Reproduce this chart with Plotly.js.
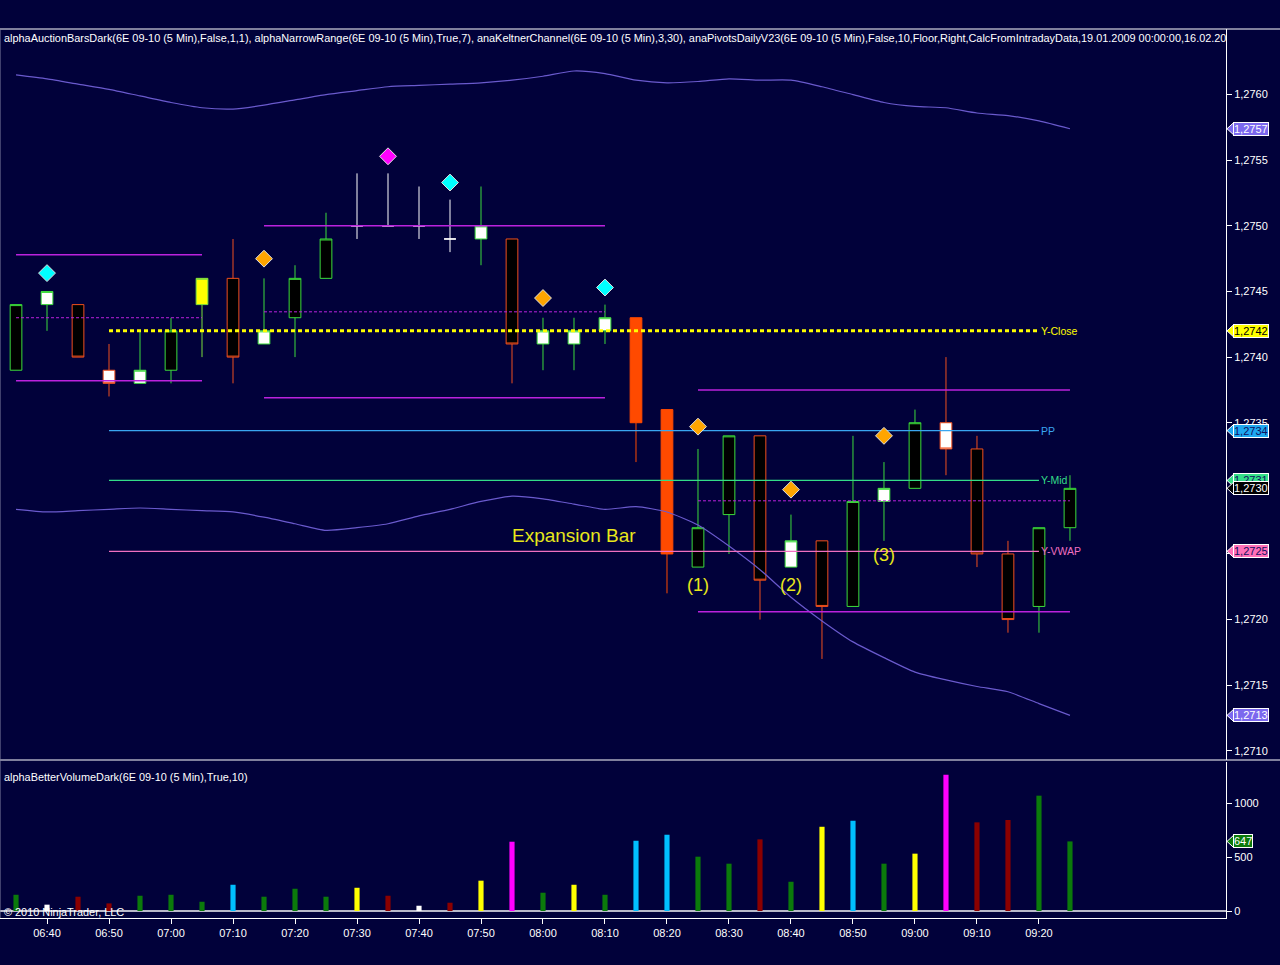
<!DOCTYPE html>
<html>
<head>
<meta charset="utf-8">
<script src="https://cdn.plot.ly/plotly-3.0.1.min.js"></script>
<style>
html,body{margin:0;padding:0;background:#01013a;}
#chart{width:1280px;height:965px;}
</style>
</head>
<body>
<div id="chart"></div>
<script>
// ---------------- DATA ----------------
const day = '2010-07-15 ';
const times = ['06:35','06:40','06:45','06:50','06:55','07:00','07:05','07:10','07:15','07:20',
               '07:25','07:30','07:35','07:40','07:45','07:50','07:55','08:00','08:05','08:10',
               '08:15','08:20','08:25','08:30','08:35','08:40','08:45','08:50','08:55','09:00',
               '09:05','09:10','09:15','09:20','09:25'];
const openP  = [1.2739,1.2744,1.2744,1.2739,1.2738,1.2739,1.2744,1.2746,1.2741,1.2743,
                1.2746,1.2750,1.2750,1.2750,1.2749,1.2749,1.2749,1.2741,1.2741,1.2742,
                1.2743,1.2736,1.2724,1.2728,1.2734,1.2724,1.2726,1.2721,1.2729,1.2730,
                1.2735,1.2733,1.2725,1.2721,1.2727];
const highP  = [1.2744,1.2745,1.2744,1.2741,1.2742,1.2743,1.2746,1.2749,1.2746,1.2747,
                1.2751,1.2754,1.2754,1.2753,1.2752,1.2753,1.2749,1.2743,1.2743,1.2744,
                1.2743,1.2736,1.2733,1.2734,1.2734,1.2728,1.2726,1.2734,1.2732,1.2736,
                1.2740,1.2734,1.2726,1.2727,1.2731];
const lowP   = [1.2739,1.2742,1.2740,1.2737,1.2738,1.2738,1.2740,1.2738,1.2741,1.2740,
                1.2746,1.2749,1.2750,1.2749,1.2748,1.2747,1.2738,1.2739,1.2739,1.2741,
                1.2732,1.2722,1.2724,1.2725,1.2720,1.2724,1.2717,1.2721,1.2726,1.2730,
                1.2731,1.2724,1.2719,1.2719,1.2726];
const closeP = [1.2744,1.2745,1.2740,1.2738,1.2739,1.2742,1.2746,1.2740,1.2742,1.2746,
                1.2749,1.2750,1.2750,1.2750,1.2749,1.2750,1.2741,1.2742,1.2742,1.2743,
                1.2735,1.2725,1.2727,1.2734,1.2723,1.2726,1.2721,1.2729,1.2730,1.2735,
                1.2733,1.2725,1.2720,1.2727,1.2730];
// bar classification from the auction-bars indicator
const barType = ['up','nrUp','down','nrDown','nrUp','up','yellow','down','nrUp','up',
                 'up','doji','doji','doji','doji','nrUp','down','nrUp','nrUp','nrUp',
                 'exp','exp','up','up','down','nrUp','down','up','nrUp','up',
                 'nrDown','down','down','up','up'];

const keltnerUpper = [1.27615,1.27612,1.27608,1.27604,1.27599,1.27594,1.27590,1.27589,1.27592,1.27596,
                      1.27600,1.27603,1.27606,1.27607,1.27608,1.27609,1.27611,1.27614,1.27618,1.27616,
                      1.27611,1.27609,1.27610,1.27612,1.27611,1.27611,1.27606,1.27600,1.27594,1.27591,
                      1.27590,1.27586,1.27584,1.27580,1.27574];
const keltnerLower = [1.27284,1.27282,1.27283,1.27284,1.27285,1.27284,1.27283,1.27282,1.27278,1.27273,
                      1.27268,1.27270,1.27273,1.27279,1.27284,1.27290,1.27294,1.27292,1.27288,1.27284,
                      1.27286,1.27282,1.27272,1.27256,1.27238,1.27217,1.27199,1.27183,1.27171,1.27160,
                      1.27154,1.27149,1.27145,1.27136,1.27127];

const volume = [151,59,133,71,142,151,86,244,133,207,
                133,216,142,49,77,282,644,170,244,151,
                653,709,505,440,666,272,783,839,440,533,
                1267,824,846,1072,647];
const volumeType = ['churn','low','down','down','churn','churn','churn','climax','churn','churn',
                    'churn','high','down','low','down','high','climaxChurn','churn','high','churn',
                    'climax','climax','churn','churn','down','churn','high','climax','churn','high',
                    'climaxChurn','down','down','churn','churn'];

// narrow range boxes
const nrStart = ['06:35','07:15','08:25'];
const nrEnd   = ['07:05','08:10','09:25'];
const nrHigh  = [1.27478,1.27500,1.27375];
const nrLow   = [1.27382,1.27369,1.27206];

// daily pivots
const pivotNames  = ['Y-Close','PP','Y-Mid','Y-VWAP'];
const pivotValues = [1.27420,1.27344,1.27306,1.27252];
const pivotStart = '06:50';
const pivotEnd   = '09:20';

// signal diamonds
const diamondTimes  = ['06:40','07:15','07:35','07:45','08:00','08:10','08:25','08:40','08:55'];
const diamondPrices = [1.27464,1.27475,1.27553,1.27533,1.27445,1.27453,1.27347,1.27299,1.27340];
const diamondKinds  = ['cyan','orange','magenta','cyan','orange','cyan','orange','orange','orange'];

// chart notes
const noteTexts  = ['Expansion Bar','(1)','(2)','(3)'];
const noteTimes  = ['08:05','08:25','08:40','08:55'];
const notePrices = [1.27264,1.27226,1.27226,1.27249];

const priceTicks  = [1.2710,1.2715,1.2720,1.2725,1.2730,1.2735,1.2740,1.2745,1.2750,1.2755,1.2760];
const timeTicks   = ['06:40','06:50','07:00','07:10','07:20','07:30','07:40','07:50','08:00','08:10',
                     '08:20','08:30','08:40','08:50','09:00','09:10','09:20'];
const volumeTicks = [0,500,1000];

// ---------------- STYLES ----------------
const BG = '#01013a';
const candleStyle = {
  up:     {line:'#3cdc3c', fill:'#000000'},
  down:   {line:'#f0501e', fill:'#000000'},
  nrUp:   {line:'#3cdc3c', fill:'#ffffff'},
  nrDown: {line:'#f0501e', fill:'#ffffff'},
  yellow: {line:'#7ce03c', fill:'#ffff00'},
  exp:    {line:'#ff4a00', fill:'#ff4a00'},
  doji:   {line:'#ffffff', fill:'#ffffff'}
};
const volColor = {churn:'#0b7a0b', low:'#ffffff', down:'#8b0000', climax:'#00bfff', high:'#ffff00', climaxChurn:'#ff00ff'};
const diamondColor = {cyan:'#00ffff', orange:'#ffa500', magenta:'#ff00ff'};
const pivotColor = {'Y-Close':'#ffff00','PP':'#3aa6f0','Y-Mid':'#33dd88','Y-VWAP':'#f070c0'};
const keltColor = '#6a5acd';
const nrColor = '#bb22dd';

const T = t => day + t;
const traces = [];

// Keltner channel
traces.push({type:'scatter', mode:'lines', x:times.map(T), y:keltnerUpper, line:{color:keltColor, width:1.2, shape:'spline', smoothing:0.6}, hoverinfo:'skip'});
traces.push({type:'scatter', mode:'lines', x:times.map(T), y:keltnerLower, line:{color:keltColor, width:1.2, shape:'spline', smoothing:0.6}, hoverinfo:'skip'});

// pivot lines
pivotNames.forEach((n,i)=>{
  const isClose = n==='Y-Close';
  traces.push({type:'scatter', mode:'lines', x:[T(pivotStart),T(pivotEnd)], y:[pivotValues[i],pivotValues[i]],
    line:{color:pivotColor[n], width:isClose?3:1.2, dash:isClose?'4px,3px':'solid'}, hoverinfo:'skip'});
});

// narrow range boxes
nrStart.forEach((s,i)=>{
  const xs=[T(s),T(nrEnd[i])];
  traces.push({type:'scatter',mode:'lines',x:xs,y:[nrHigh[i],nrHigh[i]],line:{color:nrColor,width:1.5},hoverinfo:'skip'});
  traces.push({type:'scatter',mode:'lines',x:xs,y:[nrLow[i],nrLow[i]],line:{color:nrColor,width:1.5},hoverinfo:'skip'});
  const mid=(nrHigh[i]+nrLow[i])/2;
  traces.push({type:'scatter',mode:'lines',x:xs,y:[mid,mid],line:{color:nrColor,width:1,dash:'3px,2px'},hoverinfo:'skip'});
});

// candles grouped by type
Object.keys(candleStyle).forEach(k=>{
  const idx = barType.map((b,i)=>b===k?i:-1).filter(i=>i>=0);
  if(!idx.length) return;
  const st = candleStyle[k];
  const side = {line:{color:st.line,width:1}, fillcolor:st.fill};
  traces.push({type:'candlestick', xaxis:'x', yaxis:'y',
    x:idx.map(i=>T(times[i])), open:idx.map(i=>openP[i]), high:idx.map(i=>highP[i]),
    low:idx.map(i=>lowP[i]), close:idx.map(i=>closeP[i]),
    increasing:side, decreasing:side, whiskerwidth:0, hoverinfo:'skip'});
});

// diamonds
traces.push({type:'scatter', mode:'markers', x:diamondTimes.map(T), y:diamondPrices,
  marker:{symbol:'diamond', size:13, color:diamondKinds.map(k=>diamondColor[k]), line:{color:'#e0e0e0',width:1}}, hoverinfo:'skip'});

// volume
traces.push({type:'bar', xaxis:'x', yaxis:'y2', x:times.map(T), y:volume, width:50000,
  marker:{color:volumeType.map(v=>volColor[v]), line:{width:0}}, hoverinfo:'skip'});

// ---------------- ANNOTATIONS ----------------
const fmt = v => v.toFixed(4).replace('.', ',');
const annotations = [];
const shapes = [];
const FONT = 'Liberation Sans, Arial, sans-serif';

annotations.push({xref:'container', yref:'container', x:0.5, y:1-13/965, xanchor:'center', yanchor:'middle',
  text:'6E 09-10 (5 Min)\u00a0 15.07.2010', showarrow:false, font:{size:15, color:'#ffffff', family:FONT}});
annotations.push({xref:'paper', yref:'paper', x:0, xshift:2, y:(918-38)/889, xanchor:'left', yanchor:'middle', showarrow:false,
  text:'alphaAuctionBarsDark(6E 09-10 (5 Min),False,1,1), alphaNarrowRange(6E 09-10 (5 Min),True,7), anaKeltnerChannel(6E 09-10 (5 Min),3,30), anaPivotsDailyV23(6E 09-10 (5 Min),False,10,Floor,Right,CalcFromIntradayData,19.01.2009 00:00:00,16.02.20',
  font:{size:10.9, color:'#ffffff', family:FONT}});
annotations.push({xref:'paper', yref:'paper', x:0, xshift:2, y:(918-777)/889, xanchor:'left', yanchor:'middle', showarrow:false,
  text:'alphaBetterVolumeDark(6E 09-10 (5 Min),True,10)', font:{size:10.9, color:'#ffffff', family:FONT}});
annotations.push({xref:'paper', yref:'paper', x:0, xshift:2, y:(918-912)/889, xanchor:'left', yanchor:'middle', showarrow:false,
  text:'\u00a9 2010 NinjaTrader, LLC', font:{size:10.9, color:'#ffffff', family:FONT}});

// pivot labels
pivotNames.forEach((n,i)=>{
  annotations.push({xref:'x', yref:'y', x:T(pivotEnd), y:pivotValues[i], xanchor:'left', yanchor:'middle', showarrow:false,
    text:n, font:{size:10.5, color:pivotColor[n], family:FONT}});
});

// notes
noteTexts.forEach((t,i)=>{
  annotations.push({xref:'x', yref:'y', x:T(noteTimes[i]), y:notePrices[i], xanchor:'center', yanchor:'middle', showarrow:false,
    text:t, font:{size:i===0?19:18, color:'#e8e81a', family:FONT}});
});

// right-side value tags
function tag(val, yref, bg, fg, text, halfH){
  annotations.push({xref:'paper', yref:yref, x:1, xshift:7, y:val, xanchor:'left', yanchor:'middle', showarrow:false,
    text:text, bgcolor:bg, bordercolor:'#ffffff', borderwidth:1, borderpad:0, font:{size:11, color:fg, family:FONT}});
  shapes.push({type:'path', xref:'paper', yref:yref, layer:'above', fillcolor:bg, line:{color:'#ffffff', width:1},
    path:`M ${1227/1226},${val} L ${1233.5/1226},${val+halfH} L ${1233.5/1226},${val-halfH} Z`});
}
const pipHalf = 6/13.13*0.0001;
tag(keltnerUpper[keltnerUpper.length-1], 'y', '#7b68ee', '#ffffff', fmt(keltnerUpper[keltnerUpper.length-1]), pipHalf);
tag(pivotValues[0], 'y', '#ffff00', '#000000', fmt(pivotValues[0]), pipHalf);
tag(pivotValues[1], 'y', '#1ea8f0', '#101060', fmt(pivotValues[1]), pipHalf);
tag(pivotValues[2], 'y', '#33dd88', '#101060', fmt(pivotValues[2]), pipHalf);
tag(closeP[closeP.length-1], 'y', '#000000', '#ffffff', fmt(closeP[closeP.length-1]), pipHalf);
tag(pivotValues[3], 'y', '#ff6fb8', '#101060', fmt(pivotValues[3]), pipHalf);
tag(keltnerLower[keltnerLower.length-1], 'y', '#7b68ee', '#ffffff', fmt(keltnerLower[keltnerLower.length-1]), pipHalf);
tag(volume[volume.length-1], 'y2', '#0b7a0b', '#ffffff', String(volume[volume.length-1]), 6/0.1076);

// frame lines
shapes.push({type:'line', xref:'paper', yref:'paper', x0:0, x1:1280/1226, y0:1, y1:1, line:{color:'#ffffff', width:1}});
shapes.push({type:'line', xref:'paper', yref:'paper', x0:0, x1:1280/1226, y0:(918-760)/889, y1:(918-760)/889, line:{color:'#ffffff', width:1}});
shapes.push({type:'line', xref:'paper', yref:'paper', x0:0, x1:0, y0:0, y1:1, line:{color:'#8080a0', width:1}});

// tick labels that sit fully under a value tag are not visible in the original
const taggedValues = [pivotValues[3], closeP[closeP.length-1]];
const priceTickText = priceTicks.map(v => taggedValues.some(t => Math.abs(v-t)<0.00003) ? '' : fmt(v));

const axisFont = {size:11, color:'#ffffff', family:FONT};
const layout = {
  width:1280, height:965,
  paper_bgcolor:BG, plot_bgcolor:BG,
  margin:{l:0, r:54, t:29, b:47, pad:0},
  showlegend:false,
  separators:',.',
  boxmode:'overlay', boxgap:0.46,
  font:{family:FONT, size:11, color:'#ffffff'},
  hovermode:false,
  xaxis:{type:'date', anchor:'y2', range:[T('06:32:25'), T('09:50:10')], showline:true, linecolor:'#ffffff', linewidth:1,
    ticks:'outside', ticklen:5, tickcolor:'#ffffff', tickvals:timeTicks.map(T), ticktext:timeTicks,
    showgrid:false, zeroline:false, rangeslider:{visible:false}, tickfont:axisFont, fixedrange:true},
  yaxis:{domain:[(918-760)/889, 1], anchor:'x', side:'right', range:[1.27093, 1.27650], tickvals:priceTicks, ticktext:priceTickText,
    showline:true, linecolor:'#ffffff', linewidth:1, ticks:'outside', ticklen:5, tickcolor:'#ffffff',
    showgrid:false, zeroline:false, tickfont:axisFont},
  yaxis2:{domain:[0, (918-762)/889], anchor:'x', side:'right', range:[-65, 1385], tickvals:volumeTicks, tickformat:'d',
    showline:true, linecolor:'#ffffff', linewidth:1, ticks:'outside', ticklen:5, tickcolor:'#ffffff',
    showgrid:false, zeroline:true, zerolinecolor:'#b8b8c8', zerolinewidth:2, tickfont:axisFont},
  annotations:annotations,
  shapes:shapes
};

Plotly.newPlot('chart', traces, layout, {staticPlot:true, displayModeBar:false});
</script>
</body>
</html>
